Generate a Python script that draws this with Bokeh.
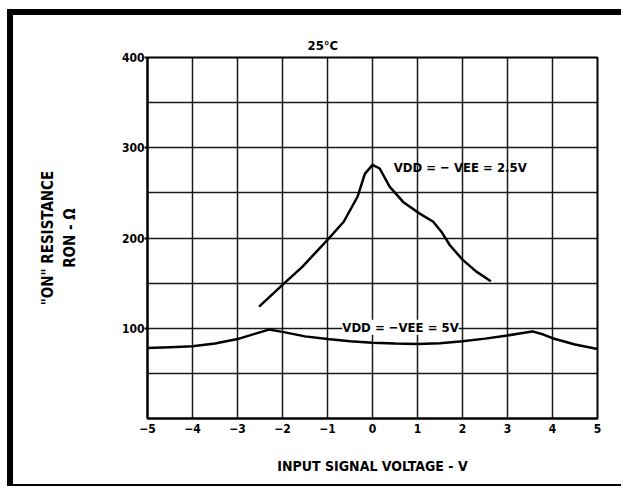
from bokeh.plotting import figure
from bokeh.models import FixedTicker, Label, Range1d
from bokeh.embed import file_html
from bokeh.resources import INLINE

# ---- data ----
x_ticks = [-5, -4, -3, -2, -1, 0, 1, 2, 3, 4, 5]
x_tick_labels = ["\u22125", "\u22124", "\u22123", "\u22122", "\u22121", "0", "1", "2", "3", "4", "5"]
y_ticks = [100, 200, 300, 400]
y_grid = [0, 50, 100, 150, 200, 250, 300, 350, 400]

v25_x = [-2.52, -2.0, -1.56, -1.0, -0.64, -0.33, -0.17, 0.0, 0.16, 0.38, 0.68, 1.05, 1.35, 1.53, 1.72, 2.0, 2.3, 2.63]
v25_y = [124, 148, 168, 198, 218, 246, 271, 281, 277, 257, 240, 227, 218, 207, 192, 176, 163, 152]

v5_x = [-5, -4.5, -4, -3.5, -3, -2.6, -2.3, -2, -1.5, -1, -0.5, 0, 0.5, 1, 1.5, 2, 2.5, 3, 3.3, 3.55, 3.8, 4, 4.5, 5]
v5_y = [78, 79, 80, 83, 88, 94, 98.5, 96, 91, 88, 85.5, 84, 83, 82.5, 83.5, 85.5, 88.5, 92, 94.5, 96.5, 93, 89, 82, 77]

label_25 = "VDD = \u2212 VEE = 2.5V"
label_5 = "VDD = \u2212VEE = 5V"
title_text = "25\u00b0C"
x_title = "INPUT SIGNAL VOLTAGE - V"
y_title = "\"ON\" RESISTANCE\nRON - \u03a9"

FONT = "DejaVu Sans Condensed"

p = figure(width=614, height=477, output_backend="svg", toolbar_location=None,
           x_range=Range1d(-5, 5), y_range=Range1d(0, 400),
           min_border_left=134, min_border_right=30, min_border_top=42, min_border_bottom=74)
p.styles = {"border-top": "6px solid black", "border-left": "6px solid black",
            "border-bottom": "2px solid black", "margin-left": "7px", "margin-top": "9px"}

p.title.text = title_text
p.title.align = "left"
p.title.offset = 160
p.title.text_font = FONT
p.title.text_font_size = "13px"
p.title.text_font_style = "bold"
p.title.text_color = "black"
p.title.standoff = 10

p.outline_line_color = "black"
p.outline_line_width = 2
p.background_fill_color = "white"
p.border_fill_color = "white"

p.xaxis.ticker = FixedTicker(ticks=x_ticks)
p.xaxis.major_label_overrides = {t: l for t, l in zip(x_ticks, x_tick_labels)}
p.yaxis.ticker = FixedTicker(ticks=y_ticks)
p.ygrid.ticker = FixedTicker(ticks=y_grid)
p.xgrid.ticker = FixedTicker(ticks=x_ticks)

for ax in (p.xaxis, p.yaxis):
    ax.axis_line_color = "black"
    ax.axis_line_width = 2
    ax.minor_tick_line_color = None
    ax.major_label_text_font = FONT
    ax.major_label_text_font_style = "bold"
    ax.major_label_text_font_size = "12px"
    ax.major_label_text_color = "black"
    ax.axis_label_text_font = FONT
    ax.axis_label_text_font_style = "bold"
    ax.axis_label_text_color = "black"

p.xaxis.major_tick_out = 0
p.xaxis.major_tick_in = 0
p.xaxis.major_label_standoff = 5
p.xaxis.axis_label = x_title
p.xaxis.axis_label_text_font_size = "14px"
p.xaxis.axis_label_standoff = 22

p.yaxis.major_tick_out = 3
p.yaxis.major_tick_in = 0
p.yaxis.major_tick_line_width = 2
p.yaxis.major_label_standoff = 0
p.yaxis.axis_label = y_title
p.yaxis.axis_label_text_font_size = "15px"
p.yaxis.axis_label_standoff = 40

for g in (p.xgrid, p.ygrid):
    g.grid_line_color = "black"
    g.grid_line_width = 1.5
    g.grid_line_alpha = 0.9

p.line(v25_x, v25_y, line_color="black", line_width=2.5)
p.line(v5_x, v5_y, line_color="black", line_width=2.5)

p.add_layout(Label(x=0.47, y=278, text=label_25, text_font=FONT, text_font_style="bold",
                   text_font_size="13px", text_baseline="middle", text_color="black"))
p.add_layout(Label(x=-0.67, y=101, text=label_5, text_font=FONT, text_font_style="bold",
                   text_font_size="13px", text_baseline="middle", text_color="black",
                   background_fill_color="white", background_fill_alpha=1.0))

open("out.html", "w").write(file_html(p, INLINE))
